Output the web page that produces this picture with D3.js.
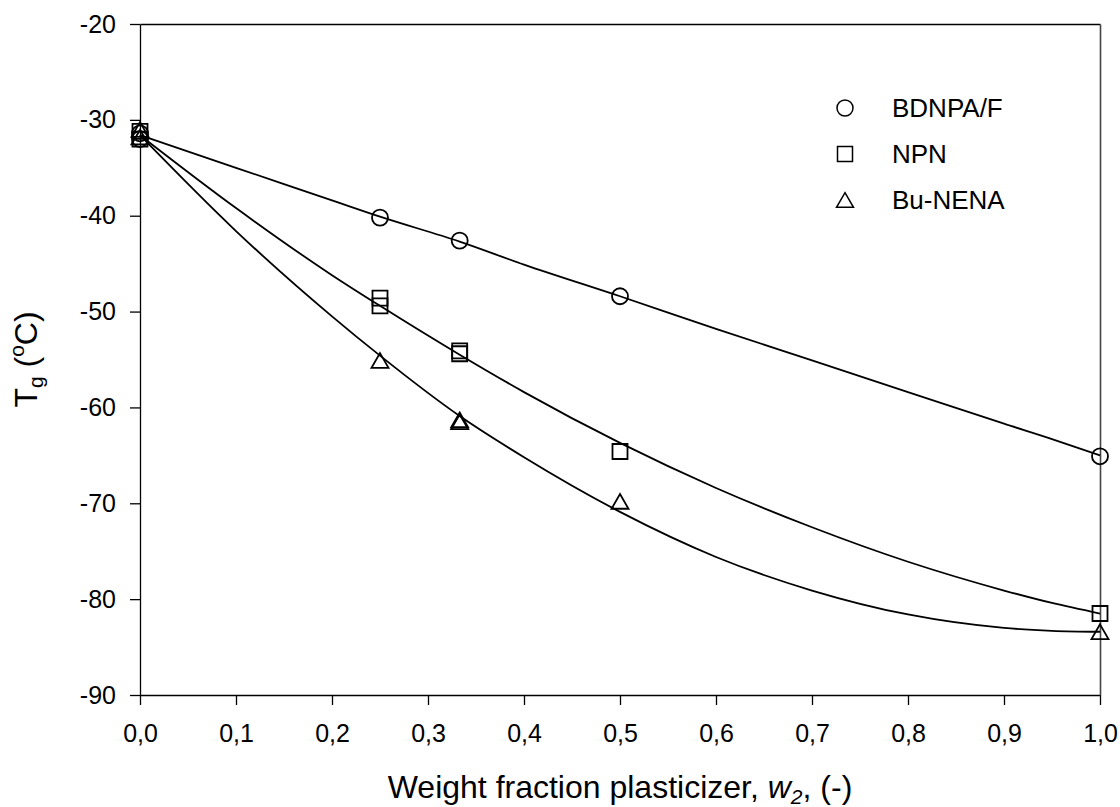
<!DOCTYPE html>
<html>
<head>
<meta charset="utf-8">
<script src="https://cdn.jsdelivr.net/npm/d3@7"></script>
<style>
  html, body { margin: 0; padding: 0; background: #fff; }
  svg { display: block; }
  text { font-family: "Liberation Sans", Arial, Helvetica, sans-serif; fill: #000; }
</style>
</head>
<body>
<svg id="chart" width="1120" height="807"></svg>
<script>
// ---- data ----
const seriesNames = ["BDNPA/F", "NPN", "Bu-NENA"];

const bdnpaW  = [0, 0, 0.25, 0.333, 0.5, 1.0];
const bdnpaTg = [-31.4, -32.0, -40.2, -42.6, -48.4, -65.1];

const npnW  = [0, 0, 0.25, 0.25, 0.333, 0.333, 0.5, 1.0];
const npnTg = [-31.2, -32.0, -48.6, -49.4, -54.1, -54.4, -64.6, -81.5];

const bunenaW  = [0, 0, 0.25, 0.333, 0.333, 0.5, 1.0];
const bunenaTg = [-31.0, -31.8, -55.1, -61.3, -61.5, -69.8, -83.4];

// fitted curves
const fitW      = [0, 0.1, 0.2, 0.25, 0.333, 0.4, 0.5, 0.6, 0.7, 0.8, 0.9, 0.95, 1.0];
const bdnpaFit  = [-31.6, -35.0, -38.4, -40.1, -42.7, -45.1, -48.4, -51.8, -55.1, -58.4, -61.7, -63.3, -65.0];
const npnFit    = [-31.6, -39.2, -46.2, -49.4, -54.5, -58.4, -63.7, -68.4, -72.5, -76.1, -79.1, -80.4, -81.5];
const bunenaFit = [-31.6, -41.6, -50.5, -54.6, -60.9, -65.2, -70.9, -75.6, -79.1, -81.6, -83.0, -83.3, -83.4];

const xTicks = [0, 0.1, 0.2, 0.3, 0.4, 0.5, 0.6, 0.7, 0.8, 0.9, 1.0];
const xTickLabels = ["0,0", "0,1", "0,2", "0,3", "0,4", "0,5", "0,6", "0,7", "0,8", "0,9", "1,0"];
const yTicks = [-20, -30, -40, -50, -60, -70, -80, -90];
const yTickLabels = ["-20", "-30", "-40", "-50", "-60", "-70", "-80", "-90"];

// ---- layout ----
const svg = d3.select("#chart");
const pL = 140, pR = 1100, pT = 24, pB = 695;

const x = d3.scaleLinear().domain([0, 1]).range([pL, pR]);
const y = d3.scaleLinear().domain([-90, -20]).range([pB, pT]);

const tickFont = 25;

// bottom axis
svg.append("g").attr("transform", `translate(0,${pB})`)
  .call(d3.axisBottom(x).tickValues(xTicks)
    .tickFormat((d, i) => xTickLabels[i]).tickSize(10).tickSizeOuter(0).tickPadding(19));
// left axis
svg.append("g").attr("transform", `translate(${pL},0)`)
  .call(d3.axisLeft(y).tickValues(yTicks)
    .tickFormat((d, i) => yTickLabels[i]).tickSize(10).tickSizeOuter(0).tickPadding(14));
// frame top / right
svg.append("g").attr("transform", `translate(0,${pT})`)
  .call(d3.axisTop(x).tickValues([]).tickSizeOuter(0));
svg.append("g").attr("class", "rframe").attr("transform", `translate(${pR},0)`)
  .call(d3.axisRight(y).tickValues([]).tickSizeOuter(0));

svg.selectAll(".domain").attr("stroke", "#000").attr("stroke-width", 1.3);
svg.selectAll(".rframe .domain").attr("stroke", "#444").attr("stroke-width", 1.6);
svg.selectAll(".tick line").attr("stroke", "#000").attr("stroke-width", 1.3);
svg.selectAll(".tick text").attr("font-size", tickFont)
  .attr("font-family", "'Liberation Sans', Arial, sans-serif").attr("fill", "#000");

// ---- fit curves ----
const line = d3.line().x(d => x(d[0])).y(d => y(d[1])).curve(d3.curveMonotoneX);
[bdnpaFit, npnFit, bunenaFit].forEach(vals => {
  svg.append("path")
    .datum(fitW.map((w, i) => [w, vals[i]]))
    .attr("fill", "none").attr("stroke", "#000").attr("stroke-width", 1.8)
    .attr("d", line);
});

// ---- markers ----
const circleSym = d3.symbol().type(d3.symbolCircle).size(Math.PI * 8 * 8);
const squareSym = d3.symbol().type(d3.symbolSquare).size(15 * 15);
const triSize = 125;
const triSym = d3.symbol().type(d3.symbolTriangle).size(triSize);
const triShift = Math.sqrt(triSize / (Math.sqrt(3) * 3)) / 2;

const series = [
  { w: bdnpaW, tg: bdnpaTg, sym: circleSym, dy: 0 },
  { w: npnW, tg: npnTg, sym: squareSym, dy: 0 },
  { w: bunenaW, tg: bunenaTg, sym: triSym, dy: triShift }
];

series.forEach(s => {
  svg.append("g").selectAll("path")
    .data(s.w.map((w, i) => [w, s.tg[i]]))
    .join("path")
    .attr("d", s.sym())
    .attr("transform", d => `translate(${x(d[0])},${y(d[1]) + s.dy})`)
    .attr("fill", "none").attr("stroke", "#000").attr("stroke-width", 1.8);
});

// ---- legend ----
const legend = svg.append("g");
const legX = 845, legY0 = 108, legStep = 46;
series.forEach((s, i) => {
  legend.append("path").attr("d", s.sym())
    .attr("transform", `translate(${legX},${legY0 + i * legStep + s.dy})`)
    .attr("fill", "none").attr("stroke", "#000").attr("stroke-width", 1.5);
  legend.append("text").attr("x", 892).attr("y", legY0 + i * legStep)
    .attr("dy", "0.36em").attr("font-size", 26).text(seriesNames[i]);
});

// ---- axis titles ----
const xt = svg.append("text").attr("x", (pL + pR) / 2).attr("y", 798)
  .attr("text-anchor", "middle").attr("font-size", 32);
xt.append("tspan").text("Weight fraction plasticizer, ");
xt.append("tspan").attr("font-style", "italic").text("w");
xt.append("tspan").attr("font-style", "italic").attr("font-size", 21).attr("dy", 6).text("2");
xt.append("tspan").attr("dy", -6).text(", (-)");

const yt = svg.append("text")
  .attr("transform", `translate(37,${(pT + pB) / 2}) rotate(-90)`)
  .attr("text-anchor", "middle").attr("font-size", 32);
yt.append("tspan").text("T");
yt.append("tspan").attr("font-size", 21).attr("dy", 6).text("g");
yt.append("tspan").attr("dy", -6).text(" (");
yt.append("tspan").attr("font-size", 21).attr("dy", -13).text("o");
yt.append("tspan").attr("dy", 13).text("C)");
</script>
</body>
</html>
